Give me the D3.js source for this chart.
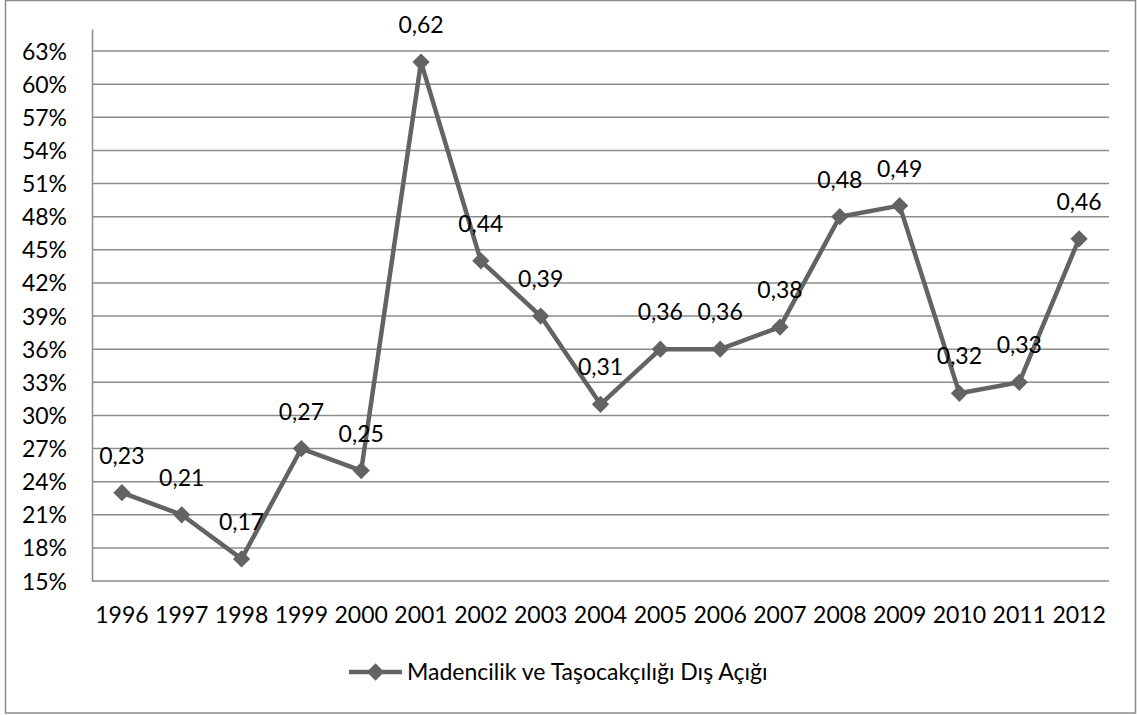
<!DOCTYPE html>
<html>
<head>
<meta charset="utf-8">
<script src="https://cdn.jsdelivr.net/npm/d3@7"></script>
<style>
  body { margin: 0; background: #fff; }
  svg text { font-family: Lato, "Open Sans", sans-serif; fill: #000; }
</style>
</head>
<body>
<div id="chart"></div>
<script>
// data
const years = ["1996","1997","1998","1999","2000","2001","2002","2003","2004","2005","2006","2007","2008","2009","2010","2011","2012"]
const values = [0.23,0.21,0.17,0.27,0.25,0.62,0.44,0.39,0.31,0.36,0.36,0.38,0.48,0.49,0.32,0.33,0.46]
const yTicks = [0.15,0.18,0.21,0.24,0.27,0.30,0.33,0.36,0.39,0.42,0.45,0.48,0.51,0.54,0.57,0.60,0.63]
const seriesName = "Madencilik ve Taşocakçılığı Dış Açığı"

const W = 1137, H = 715
const plot = { left: 92, right: 1109, top: 29, bottom: 581 }
const lineColor = "#636363"
const gridColor = "#8c8c8c"
const fontSize = "23px"

const svg = d3.select("#chart").append("svg")
    .attr("width", W)
    .attr("height", H)

// outer frame
svg.append("rect")
    .attr("x", 5.5).attr("y", 0.5)
    .attr("width", 1130).attr("height", 712.5)
    .attr("fill", "none")
    .attr("stroke", gridColor)
    .attr("stroke-width", 1.5)

const x = d3.scaleBand().domain(years).range([plot.left, plot.right])
const y = d3.scaleLinear().domain([0.15, 0.65]).range([plot.bottom, plot.top])

// gridlines
svg.append("g")
    .selectAll("line")
    .data(yTicks)
    .enter()
    .append("line")
    .attr("x1", plot.left).attr("x2", plot.right)
    .attr("y1", d => y(d)).attr("y2", d => y(d))
    .attr("stroke", gridColor)
    .attr("stroke-width", 1.5)

// y axis
const yAxis = d3.axisLeft(y).tickValues(yTicks).tickSize(0).tickPadding(25)
    .tickFormat(d => Math.round(d * 100) + "%")
const gy = svg.append("g").attr("transform", `translate(${plot.left},0)`).call(yAxis)
gy.select(".domain").attr("stroke", gridColor).attr("stroke-width", 1.5)
gy.selectAll("text").style("font-size", fontSize).attr("dy", "0.35em")

// x axis
const xAxis = d3.axisBottom(x).tickSize(0).tickPadding(26)
const gx = svg.append("g").attr("transform", `translate(0,${plot.bottom})`).call(xAxis)
gx.select(".domain").remove()
gx.selectAll("text").style("font-size", fontSize)

const cx = d => x(d) + x.bandwidth() / 2
const pts = years.map((yr, i) => ({ yr, v: values[i] }))

// series line
svg.append("path")
    .datum(pts)
    .attr("fill", "none")
    .attr("stroke", lineColor)
    .attr("stroke-width", 4.5)
    .attr("stroke-linejoin", "round")
    .attr("d", d3.line().x(d => cx(d.yr)).y(d => y(d.v)))

// diamond markers
const diamond = d3.symbol().type(d3.symbolDiamond2).size(190)
svg.append("g")
    .selectAll("path")
    .data(pts)
    .enter()
    .append("path")
    .attr("d", diamond)
    .attr("transform", d => `translate(${cx(d.yr)},${y(d.v)})`)
    .attr("fill", lineColor)

// data labels
svg.append("g")
    .selectAll("text")
    .data(pts)
    .enter()
    .append("text")
    .attr("x", d => cx(d.yr))
    .attr("y", d => y(d.v) - 29)
    .attr("text-anchor", "middle")
    .style("font-size", fontSize)
    .text(d => d.v.toFixed(2).replace(".", ","))

// legend
const lg = svg.append("g").attr("transform", "translate(349,672)")
lg.append("line")
    .attr("x1", 0).attr("x2", 53)
    .attr("stroke", lineColor).attr("stroke-width", 4.5)
lg.append("path")
    .attr("d", diamond)
    .attr("transform", "translate(26.5,0)")
    .attr("fill", lineColor)
lg.append("text")
    .attr("x", 58).attr("y", 8)
    .style("font-size", fontSize)
    .text(seriesName)
</script>
</body>
</html>
